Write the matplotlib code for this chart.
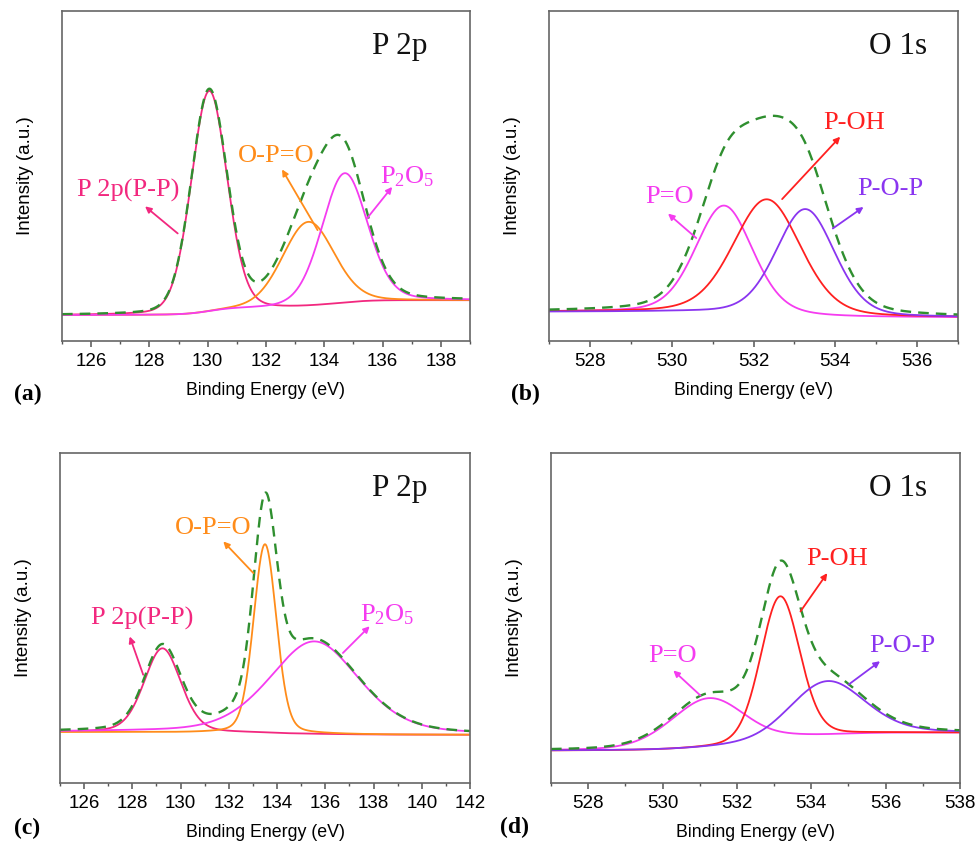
import numpy as np
import matplotlib
matplotlib.use("Agg")
import matplotlib.pyplot as plt
from matplotlib.ticker import MultipleLocator

plt.rcParams["font.family"] = ["Liberation Sans", "DejaVu Sans"]
plt.rcParams["mathtext.fontset"] = "custom"
plt.rcParams["mathtext.rm"] = "Liberation Serif"
plt.rcParams["mathtext.it"] = "Liberation Serif:italic"

# ---- fitted peak components (binding energy in eV, intensity in a.u.) ----
# (a) P 2p, sample 1
a_names = ["P 2p(P-P)", "O-P=O", "P$_2$O$_5$"]
a_centers = [130.05, 133.45, 134.70]
a_heights = [0.670, 0.257, 0.394]
a_fwhm = [1.45, 2.10, 1.85]
a_eta = [0.15, 0.15, 0.20]
a_background = [0.078, 0.123]
a_xlim = [125.0, 139.0]

# (b) O 1s, sample 1
b_names = ["P=O", "P-OH", "P-O-P"]
b_centers = [531.28, 532.33, 533.27]
b_heights = [0.326, 0.350, 0.325]
b_fwhm = [1.65, 1.95, 1.70]
b_eta = [0.25, 0.25, 0.25]
b_background = [0.088, 0.071]
b_xlim = [527.0, 537.0]

# (c) P 2p, sample 2
c_names = ["P 2p(P-P)", "O-P=O", "P$_2$O$_5$"]
c_centers = [129.25, 133.50, 135.55]
c_heights = [0.255, 0.573, 0.281]
c_fwhm = [1.80, 1.12, 4.40]
c_eta = [0.25, 0.20, 0.35]
c_background = [0.154, 0.146]
c_xlim = [125.0, 142.0]

# (d) O 1s, sample 2
d_names = ["P=O", "P-OH", "P-O-P"]
d_centers = [531.25, 533.16, 534.43]
d_heights = [0.151, 0.440, 0.166]
d_fwhm = [2.40, 1.25, 2.40]
d_eta = [0.25, 0.20, 0.30]
d_background = [0.098, 0.152]
d_xlim = [527.0, 538.0]

panel_tags = ["(a)", "(b)", "(c)", "(d)"]
panel_titles = ["P 2p", "O 1s", "P 2p", "O 1s"]

P_COLORS = ["#f2287f", "#ff8c1a", "#f53cf0"]
O_COLORS = ["#f53cf0", "#ff2020", "#8a35f0"]
ENV_COLOR = "#2f8f2f"


def pseudo_voigt(x, c, h, w, eta):
    u = (x - c) / w
    lor = 1.0 / (1.0 + 4.0 * u ** 2)
    gau = np.exp(-4.0 * np.log(2.0) * u ** 2)
    return h * (eta * lor + (1.0 - eta) * gau)


def draw_panel(ax, xlim, centers, heights, fwhm, eta, bg, colors, names,
               title, title_x, label_pos, arrows):
    x = np.linspace(xlim[0], xlim[1], 1500)
    peaks = [pseudo_voigt(x, c, h, w, e)
             for c, h, w, e in zip(centers, heights, fwhm, eta)]
    total = np.sum(peaks, axis=0)
    # Shirley-type step background following the integrated peak area
    cum = np.concatenate([[0], np.cumsum((total[1:] + total[:-1]) / 2 * np.diff(x))])
    back = bg[0] + (bg[1] - bg[0]) * cum / cum[-1]
    for p, col in zip(peaks, colors):
        ax.plot(x, p + back, color=col, lw=1.3, solid_capstyle="round")
    ax.plot(x, total + back, color=ENV_COLOR, lw=1.7, ls=(0, (4.5, 3.0)))

    for name, col, tpos, (tail, head) in zip(names, colors, label_pos, arrows):
        ax.text(tpos[0], tpos[1], name, color=col, fontsize=19,
                family="Liberation Serif", ha="center", va="center")
        ax.annotate("", xy=head, xytext=tail,
                    arrowprops=dict(arrowstyle="-|>", color=col, lw=1.3,
                                    mutation_scale=9, shrinkA=0, shrinkB=0))

    ax.text(title_x, 0.891, title, transform=ax.transAxes, fontsize=22.5,
            family="Liberation Serif", ha="center", va="center", color="#111111")

    ax.set_xlim(*xlim)
    ax.set_ylim(0, 1)
    ax.xaxis.set_major_locator(MultipleLocator(2))
    ax.xaxis.set_minor_locator(MultipleLocator(1))
    ax.set_yticks([])
    ax.tick_params(axis="x", which="major", length=4.5, width=1.1,
                   color="#555555", labelsize=13.5, pad=4.5)
    ax.tick_params(axis="x", which="minor", length=2.5, width=1.0, color="#555555")
    for s in ax.spines.values():
        s.set_color("#666666")
        s.set_linewidth(1.2)
    ax.set_xlabel("Binding Energy (eV)", fontsize=12.8, labelpad=8)
    ax.set_ylabel("Intensity (a.u.)", fontsize=13.5, labelpad=20)


W, H = 976, 842
fig = plt.figure(figsize=(W / 100, H / 100), dpi=100)


def axes_px(left, top, right, bottom):
    return fig.add_axes([left / W, (H - bottom) / H, (right - left) / W, (bottom - top) / H])


ax_a = axes_px(62, 11, 470, 341)
ax_b = axes_px(549, 11, 958, 341)
ax_c = axes_px(60, 453, 470, 783)
ax_d = axes_px(551, 453, 960, 783)

draw_panel(ax_a, a_xlim, a_centers, a_heights, a_fwhm, a_eta, a_background,
           P_COLORS, a_names, panel_titles[0], 0.828,
           [(127.27, 0.457), (132.35, 0.562), (136.85, 0.497)],
           [((128.97, 0.326), (127.85, 0.408)),
            ((133.77, 0.336), (132.55, 0.52)),
            ((135.46, 0.371), (136.33, 0.467))])

draw_panel(ax_b, b_xlim, b_centers, b_heights, b_fwhm, b_eta, b_background,
           O_COLORS, b_names, panel_titles[1], 0.853,
           [(529.95, 0.437), (534.45, 0.661), (535.35, 0.462)],
           [((530.60, 0.312), (529.91, 0.386)),
            ((532.70, 0.430), (534.12, 0.619)),
            ((533.94, 0.341), (534.69, 0.406))])

draw_panel(ax_c, c_xlim, c_centers, c_heights, c_fwhm, c_eta, c_background,
           P_COLORS, c_names, panel_titles[2], 0.829,
           [(128.42, 0.50), (131.35, 0.773), (138.55, 0.51)],
           [((128.45, 0.328), (127.89, 0.444)),
            ((133.02, 0.636), (131.77, 0.732)),
            ((136.73, 0.394), (137.84, 0.475))])

draw_panel(ax_d, d_xlim, d_centers, d_heights, d_fwhm, d_eta, d_background,
           O_COLORS, d_names, panel_titles[3], 0.848,
           [(530.27, 0.384), (534.70, 0.679), (536.45, 0.414)],
           [((531.02, 0.265), (530.29, 0.341)),
            ((533.71, 0.520), (534.43, 0.636)),
            ((535.00, 0.298), (535.85, 0.369))])

for tag, (px, py) in zip(panel_tags, [(14, 394), (511, 394), (14, 828), (500, 827)]):
    fig.text(px / W, (H - py) / H, tag, fontsize=17, fontweight="bold",
             family="Liberation Serif", ha="left", va="center")

fig.savefig("out.png", dpi=100)
